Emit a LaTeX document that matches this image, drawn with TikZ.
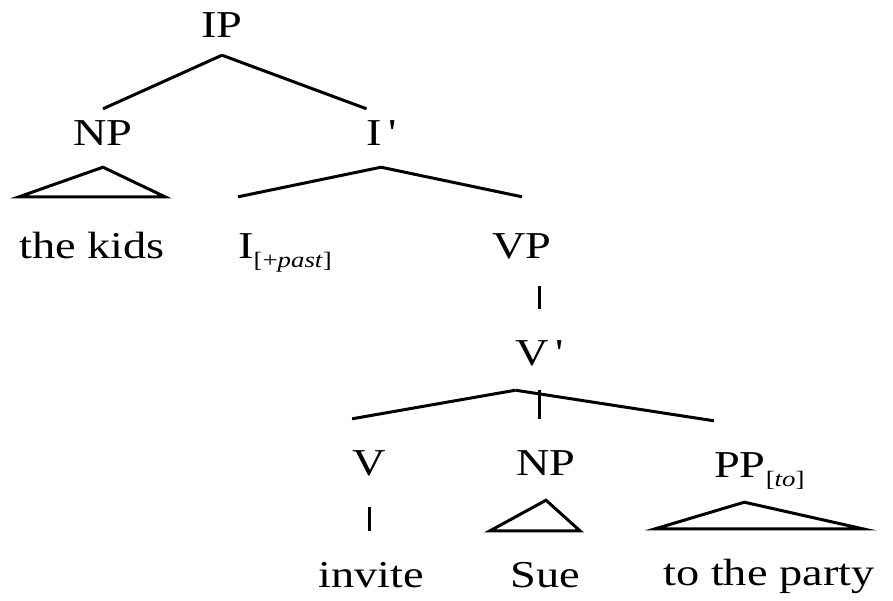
\documentclass[tikz,border=0pt]{standalone}
\usepackage{fontspec}
\setmainfont[FakeStretch=1.22]{Liberation Serif}
\usetikzlibrary{positioning}

% bracketed feature, set low and small
\newcommand{\featsub}[1]{\raisebox{-9pt}{\fontsize{22}{24}\selectfont[#1]}}

\begin{document}
\begin{tikzpicture}[x=1pt, y=-1pt,
  cat/.style={inner sep=0pt, anchor=base, text height=56pt, text depth=25pt,
    font=\fontsize{38}{44}\selectfont},
  upper/.style={cat, text height=36pt, text depth=22pt},
  mid/.style={cat, text height=61pt, text depth=28pt},
  branch/.style={line width=3pt},
  tri/.style={line width=3pt, line join=miter}
]
\useasboundingbox (0,0) rectangle (893,600);

% labels
\node[cat, text depth=18pt] (ip) at (222,37) {IP};
\node[upper] (np) at (103,145) {NP};
\node[upper] (ibar) at (381,145) {I\,\textquotesingle};
\node[mid] (kids) at (92,258) {the kids};
\node[mid, anchor=base west] (infl) at (238,258) {I\featsub{+\textit{past}}};
\node[mid] (vp) at (522,258) {VP};
\node[cat] (vbar) at (539,365) {V\,\textquotesingle};
\node[cat, text depth=32pt] (v) at (369,475) {V};
\node[cat] (np2) at (546,475) {NP};
\node[cat, anchor=base west] (pp) at (714,477) {PP\featsub{\textit{to}}};
\node[cat] (invite) at (371,587) {invite};
\node[cat] (sue) at (545,587) {Sue};
\node[cat] (party) at (769,585) {to the party};

% branches
\draw[branch] (ip.south) -- (np.north);
\draw[branch] (ip.south) -- (ibar.north west);
\draw[tri] (np.south) -- (kids.north west) -- (kids.north east) -- cycle;
\draw[branch] (ibar.south) -- (infl.north west);
\draw[branch] (ibar.south) -- (vp.north);
\draw[branch] (vbar.north) -- (vbar.north |- vp.south);
\draw[branch] (vbar.south west) -- (v.north west);
\draw[branch] (vbar.south) -- (vbar.south |- np2.north);
\draw[branch] (vbar.south west) -- (pp.north west);
\draw[branch] (v.south) -- (v.south |- invite.north);
\draw[tri] (np2.south) -- ([xshift=-20pt]sue.north west) -- (sue.north east) -- cycle;
\draw[tri] ([xshift=-15pt]pp.south) -- ([xshift=-8pt]party.north west)
  -- ([xshift=-12pt]party.north east) -- cycle;
\end{tikzpicture}
\end{document}
